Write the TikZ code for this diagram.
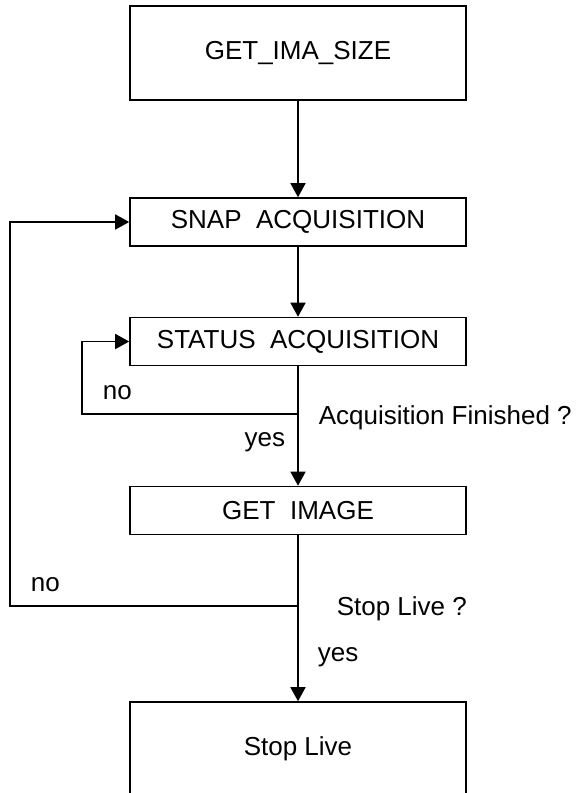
\documentclass[tikz,border=0pt]{standalone}
\usepackage{fontspec}
\setmainfont{Liberation Sans}
\usetikzlibrary{arrows.meta}
\begin{document}
\begin{tikzpicture}[x=0.5pt, y=-0.5pt, font=\fontsize{13}{15}\selectfont, line width=0.8pt,
	line join=miter, >={Triangle[length=7pt,width=7.5pt]},
	box/.style={draw, minimum width=168pt, minimum height=24pt, inner sep=0pt},
	bigbox/.style={box, minimum height=47pt}]
				\useasboundingbox (0,0) rectangle (579,793);
				\node[bigbox] (G) at (298,53) {GET\_IMA\_SIZE};
				\node[box] (S) at (298,222) {SNAP\ \ ACQUISITION};
				\node[box] (T) at (298,341.5) {STATUS\ \ ACQUISITION};
				\node[box] (I) at (298,510.5) {GET\ \ IMAGE};
				\node[bigbox] (L) at (298,749) {Stop Live};
				\path (298,414) coordinate(J)
				(298,606) coordinate(K);
				\draw[->](G)--(S);
				\draw[->](S)--(T);
				\draw[->](T.south)--(I.north);
				\draw[->](J)--++(-216,0)|-(T.west);
				\draw[->](I.south)--(L.north);
				\draw[->](K)--++(-288,0)|-(S.west);
				\foreach \t/\p/\a in {no/{(102,393)}/west, {Acquisition Finished ?}/{(318,418)}/west, yes/{(286,442)}/east,
					no/{(30,585)}/west, {Stop Live ?}/{(336,609)}/west, yes/{(317,657)}/west}
					\node[anchor=\a, inner sep=0pt] at \p {\t};
			\end{tikzpicture}
\end{document}
